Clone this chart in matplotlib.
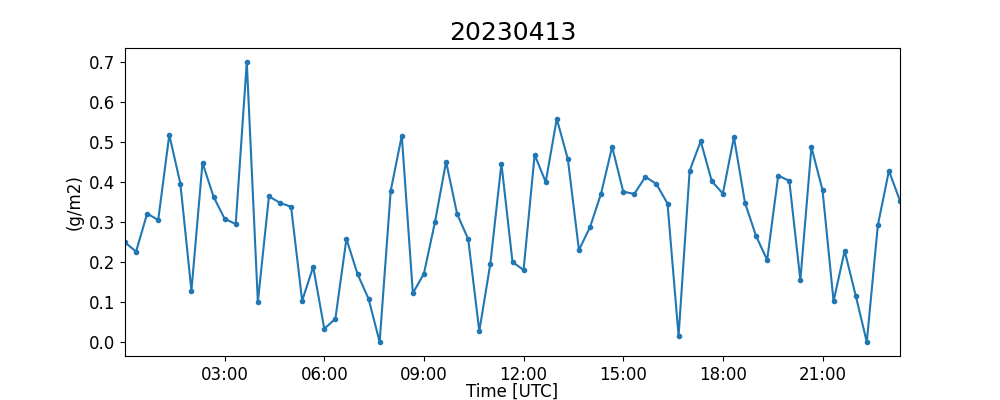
import numpy as np
import pandas as pd
import matplotlib
matplotlib.use('Agg')
import matplotlib.pyplot as plt
import matplotlib.dates as mdates

# 20-minute samples through the day
times = pd.date_range('2023-04-13 00:00', periods=71, freq='20min')
values = [
    0.249, 0.226, 0.321, 0.305, 0.518, 0.396, 0.128, 0.448, 0.363, 0.308,
    0.295, 0.700, 0.100, 0.364, 0.348, 0.338, 0.103, 0.188, 0.033, 0.058,
    0.258, 0.170, 0.108, 0.000, 0.378, 0.516, 0.122, 0.171, 0.300, 0.451,
    0.320, 0.257, 0.027, 0.196, 0.446, 0.200, 0.180, 0.468, 0.400, 0.558,
    0.457, 0.230, 0.287, 0.371, 0.488, 0.376, 0.370, 0.413, 0.395, 0.346,
    0.015, 0.428, 0.502, 0.402, 0.371, 0.512, 0.348, 0.265, 0.205, 0.416,
    0.403, 0.155, 0.487, 0.380, 0.102, 0.228, 0.116, 0.000, 0.292, 0.428,
    0.353,
]
title = '20230413'

fig, ax = plt.subplots(figsize=(10, 4), dpi=100)
ax.plot(times, values, marker='.', color='tab:blue')
ax.set_xlim(times[0], times[-1])
ax.xaxis.set_major_locator(mdates.HourLocator(byhour=range(3, 24, 3)))
ax.xaxis.set_major_formatter(mdates.DateFormatter('%H:%M'))
ax.set_title(title, fontsize=18)
ax.set_xlabel('Time [UTC]', fontsize=12, labelpad=-1)
ax.set_ylabel('(g/m2)', fontsize=12)
ax.tick_params(labelsize=12)
plt.savefig('out.png')
